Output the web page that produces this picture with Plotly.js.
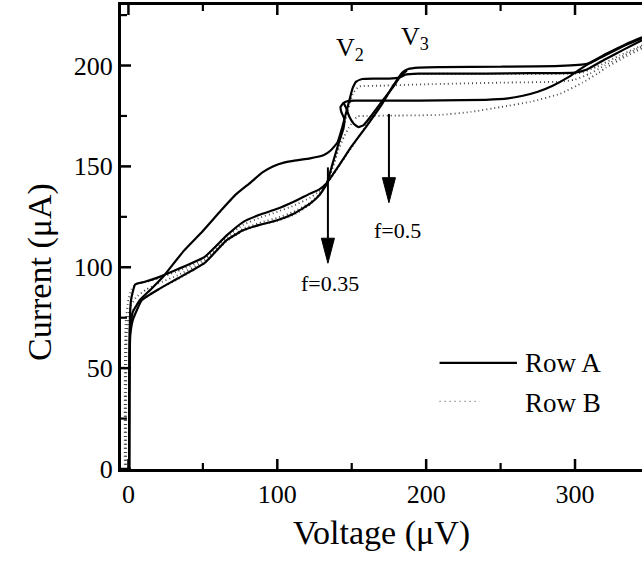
<!DOCTYPE html>
<html>
<head>
<meta charset="utf-8">
<script src="https://cdn.plot.ly/plotly-3.0.1.min.js"></script>
<style>html,body{margin:0;padding:0;background:#fff;}#chart{width:642px;height:563px;}</style>
</head>
<body>
<div id="chart"></div>
<script>
// ---- Data ----
var xTickVals = [0, 100, 200, 300];
var xMinorVals = [50, 150, 250];
var yTickVals = [0, 50, 100, 150, 200];
var yMinorVals = [25, 75, 125, 175, 225];

// Row A (solid) sweeps
var a1X = [0.5, 0.6, 1.0, 3, 8, 15, 23, 37, 50, 62, 72, 82, 90, 97, 105, 113, 122, 131, 136, 140.5, 143.5, 146, 148.5, 150.5, 153, 157, 165, 175, 182, 186, 195, 210, 240, 270, 300, 308, 320, 333, 345];
var a1Y = [0, 35, 70, 78, 84, 89, 95, 108, 118, 128, 136, 142, 147, 150, 152, 153, 154, 155.5, 158, 162, 169, 176, 183, 188.5, 192, 193.3, 193.5, 193.5, 194, 195.5, 196, 196, 196, 196.2, 196.5, 198, 203, 208, 212.5];

var a2X = [0.5, 0.6, 1, 1.8, 4.5, 11, 20, 33, 51, 66, 77, 88, 100, 111, 122, 128, 133, 141, 150, 160, 170, 177, 184, 188, 195, 210, 250, 290, 308, 321, 334.5, 345];
var a2Y = [0, 40, 75, 84, 91.5, 92.8, 95, 99, 105, 115.8, 122.4, 126, 129, 132.5, 136.5, 138.5, 141.5, 150, 160, 170, 180.5, 189, 196.5, 198.3, 199, 199.2, 199.4, 199.8, 200.8, 205.8, 210.7, 214];

var a3X = [0.5, 0.6, 1.2, 3, 9, 20, 33, 51, 66, 77, 88, 100, 111, 122, 128, 133, 137, 141, 144.5, 145, 143, 142.5, 144.5, 148, 153, 180, 210, 240, 255, 265, 275, 285, 295, 303, 308, 321, 334.5, 345];
var a3Y = [0, 35, 66, 74, 83.7, 89, 94.4, 102, 113.4, 118.3, 121, 123.3, 126.5, 131.5, 135.5, 141, 151, 161, 169, 173.5, 177, 179.5, 181.5, 182.5, 182.6, 182.6, 182.7, 183, 183.7, 185, 187, 190, 194, 198, 200.3, 205.3, 210.3, 213.5];

var a4X = [144.5, 146.5, 148.5, 151.5, 154.5, 158, 163, 170, 177, 183, 187];
var a4Y = [181.5, 178.5, 174.5, 171, 169.5, 170.5, 175, 182, 188.5, 195, 197.5];

// Row B (dotted) sweeps
var b1X = [-2.5, -2.5, -2, 0, 2, 4.5, 11, 20, 33, 51, 66, 77, 88, 100, 111, 122, 128, 133, 140, 150, 160, 170, 178, 184, 188, 200, 250, 300, 305, 315, 330, 345];
var b1Y = [0, 40, 72, 84, 89, 91.5, 92.5, 94.5, 98, 104, 115.2, 121, 124.5, 127.5, 130.5, 134.5, 137.5, 141, 148.5, 159.5, 170.5, 181.5, 190, 195.3, 195.8, 195.9, 195.9, 196, 196.5, 199.5, 205, 210];

var b2X = [-2, -2, -1.5, 1, 5, 12, 20, 33, 51, 66, 77, 88, 100, 111, 122, 128, 133, 137, 141, 144.5, 148, 151, 155, 170, 200, 250, 290, 300, 310, 320, 333, 345];
var b2Y = [0, 40, 70, 80, 85, 89, 92, 96, 103, 114, 119, 122, 124.5, 127.5, 132, 136, 141, 149, 159, 169, 179, 186.5, 189.6, 190, 190.7, 191.5, 192, 193, 196, 200, 205, 209.5];

var b3X = [-1.5, -1.5, -1, 1.5, 9, 20, 33, 51, 66, 77, 88, 100, 111, 122, 128, 133, 137, 141, 145, 148, 151, 154, 160, 180, 209, 230, 250, 270, 290, 305, 315, 321, 333, 345];
var b3Y = [0, 40, 68, 77, 84, 89, 94, 102, 113, 118, 121, 123, 126, 131, 136, 141, 149, 158, 165, 169, 172.5, 174.8, 175, 175.2, 175.5, 177, 179.4, 182, 186, 191.5, 196, 199, 204, 208.5];

// Annotation values
var arrowF035 = {x: 134, yStart: 149.5, yTip: 102};
var arrowF05 = {x: 175, yStart: 176, yTip: 132};

var xRange = [-5, 345];
var yRange = [0, 230];
var W = 642, H = 563, M = {l: 121, r: 0, t: 5, b: 94};
var pxPerX = (W - M.l - M.r) / (xRange[1] - xRange[0]);
var pxPerY = (H - M.t - M.b) / (yRange[1] - yRange[0]);

var serif = 'Liberation Serif, Times New Roman, serif';
var solid = {color: '#000', width: 2.2, shape: 'spline', smoothing: 0.4};
var dotted = {color: '#444', width: 1.8, dash: '1px,3px', shape: 'spline', smoothing: 0.4};

function tr(x, y, line, name) {
  return {x: x, y: y, mode: 'lines', line: line, name: name, showlegend: false, hoverinfo: 'skip'};
}

var data = [
  tr(b1X, b1Y, dotted, 'Row B'),
  tr(b2X, b2Y, dotted, 'Row B'),
  tr(b3X, b3Y, dotted, 'Row B'),
  tr(a1X, a1Y, solid, 'Row A'),
  tr(a2X, a2Y, solid, 'Row A'),
  tr(a3X, a3Y, solid, 'Row A'),
  tr(a4X, a4Y, solid, 'Row A')
];

function arrowShapes(a) {
  var headLen = 12.4, halfW = 4.4;
  return [
    {type: 'line', xref: 'x', yref: 'y', x0: a.x, x1: a.x, y0: a.yStart, y1: a.yTip + headLen, line: {color: '#000', width: 2}},
    {type: 'path', xref: 'x', yref: 'y',
     path: 'M ' + (a.x - halfW) + ' ' + (a.yTip + headLen) + ' L ' + (a.x + halfW) + ' ' + (a.yTip + headLen) + ' L ' + a.x + ' ' + a.yTip + ' Z',
     fillcolor: '#000', line: {color: '#000', width: 1}}
  ];
}

// Inward tick marks, placed on the axis values (lengths converted from pixels)
function xTick(v, lenPx, w, atTop) {
  var d = lenPx / pxPerY;
  var base = atTop ? yRange[1] : yRange[0];
  return {type: 'line', xref: 'x', yref: 'y', x0: v, x1: v, y0: base, y1: atTop ? base - d : base + d,
          line: {color: '#000', width: w}, layer: 'above'};
}
function yTick(v, lenPx, w) {
  var d = lenPx / pxPerX;
  return {type: 'line', xref: 'x', yref: 'y', x0: xRange[0], x1: xRange[0] + d, y0: v, y1: v,
          line: {color: '#000', width: w}, layer: 'above'};
}

var shapes = [].concat(arrowShapes(arrowF035), arrowShapes(arrowF05));
xTickVals.forEach(function (v) { shapes.push(xTick(v, 10, 2.5, false)); shapes.push(xTick(v, 10, 2.5, true)); });
xMinorVals.forEach(function (v) { shapes.push(xTick(v, 6, 2.2, false)); shapes.push(xTick(v, 6, 2.2, true)); });
yTickVals.forEach(function (v) { shapes.push(yTick(v, 10, 2.5)); });
yMinorVals.forEach(function (v) { shapes.push(yTick(v, 6, 2.2)); });

// manual legend samples
shapes.push({type: 'line', xref: 'x', yref: 'y', x0: 209, x1: 261, y0: 52.6, y1: 52.6, line: {color: '#000', width: 2.4}});
shapes.push({type: 'line', xref: 'x', yref: 'y', x0: 209, x1: 236, y0: 33.5, y1: 33.5, line: {color: '#666', width: 1.4, dash: '1px,4px'}});

var annFont = {family: serif, size: 27, color: '#000'};
var annotations = [
  {x: 138, y: 208, xref: 'x', yref: 'y', text: 'V<sub>2</sub>', showarrow: false, xanchor: 'left', yanchor: 'middle', font: {family: serif, size: 26, color: '#000'}},
  {x: 181.5, y: 213.8, xref: 'x', yref: 'y', text: 'V<sub>3</sub>', showarrow: false, xanchor: 'left', yanchor: 'middle', font: {family: serif, size: 26, color: '#000'}},
  {x: 135.5, y: 92.1, xref: 'x', yref: 'y', text: 'f=0.35', showarrow: false, xanchor: 'center', yanchor: 'middle', font: {family: serif, size: 22, color: '#000'}},
  {x: 181, y: 118.3, xref: 'x', yref: 'y', text: 'f=0.5', showarrow: false, xanchor: 'center', yanchor: 'middle', font: {family: serif, size: 22, color: '#000'}},
  {x: 265, y: 52.6, xref: 'x', yref: 'y', text: 'Row A', showarrow: false, xanchor: 'left', yanchor: 'middle', font: annFont},
  {x: 265, y: 32.8, xref: 'x', yref: 'y', text: 'Row B', showarrow: false, xanchor: 'left', yanchor: 'middle', font: annFont},
  {x: -0.1555, y: 0.4246, xref: 'paper', yref: 'paper', text: 'Current (\u03bcA)', textangle: -90, showarrow: false, xanchor: 'center', yanchor: 'middle', font: {family: serif, size: 34, color: '#000'}}
];

var layout = {
  width: W, height: H,
  margin: M,
  paper_bgcolor: '#fff', plot_bgcolor: '#fff',
  showlegend: false,
  font: {family: serif, color: '#000'},
  xaxis: {
    range: xRange, showgrid: false, zeroline: false,
    showline: true, linewidth: 3, linecolor: '#000', mirror: true,
    ticks: '', tickmode: 'array', tickvals: xTickVals, ticktext: xTickVals.map(String),
    tickfont: {family: serif, size: 26, color: '#000'},
    title: {text: 'Voltage (\u03bcV)', font: {family: serif, size: 34, color: '#000'}, standoff: 12}
  },
  yaxis: {
    range: yRange, showgrid: false, zeroline: false,
    showline: true, linewidth: 3, linecolor: '#000', mirror: false,
    ticks: '', tickmode: 'array', tickvals: yTickVals, ticktext: yTickVals.map(String),
    tickfont: {family: serif, size: 26, color: '#000'}
  },
  shapes: shapes,
  annotations: annotations
};

Plotly.newPlot('chart', data, layout, {staticPlot: true, displayModeBar: false});
</script>
</body>
</html>
